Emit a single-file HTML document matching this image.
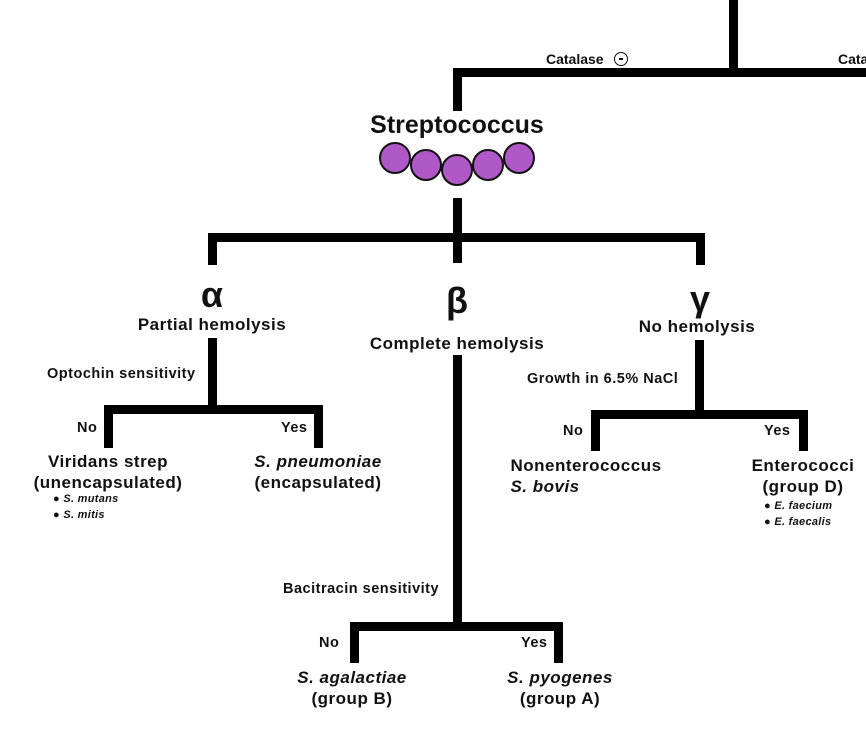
<!DOCTYPE html>
<html><head><style>
body{margin:0;background:#fff;}
.w{position:relative;width:866px;height:741px;overflow:hidden;font-family:"Liberation Sans",Arial,sans-serif;font-weight:bold;color:#111;}
.b{position:absolute;background:#000;}
.t{position:absolute;white-space:nowrap;}
.c{transform:translateX(-50%);text-align:center;}
.L{font-size:17px;letter-spacing:0.5px;line-height:21px;}
.S{font-size:14.5px;letter-spacing:0.5px;}
.B{font-size:11px;line-height:16px;letter-spacing:0.3px;}
i{font-style:italic;}
</style></head><body><div class="w">
<div class="b" style="left:729px;top:0;width:9px;height:76px"></div>
<div class="b" style="left:453px;top:68px;width:413px;height:9px"></div>
<div class="b" style="left:453px;top:68px;width:9px;height:43px"></div>
<div class="t" style="left:546px;top:51px;font-size:14px">Catalase</div>
<div style="position:absolute;left:614px;top:52px;width:14px;height:14px;border:1.5px solid #111;border-radius:50%;box-sizing:border-box"><div style="position:absolute;left:4px;top:5px;width:3.5px;height:1.5px;background:#111"></div></div>
<div class="t" style="left:838px;top:51px;font-size:14px">Catalase</div>
<div class="t c" style="left:457px;top:111px;font-size:25px">Streptococcus</div>
<svg style="position:absolute;left:370px;top:140px" width="180" height="50">
<g fill="#b058c8" stroke="#111" stroke-width="2">
<circle cx="25" cy="18" r="15"/><circle cx="149" cy="18" r="15"/>
<circle cx="56" cy="25" r="15"/><circle cx="118" cy="25" r="15"/>
<circle cx="87" cy="30" r="15"/></g></svg>
<div class="b" style="left:453px;top:198px;width:9px;height:42px"></div>
<div class="b" style="left:208px;top:233px;width:497px;height:9px"></div>
<div class="b" style="left:208px;top:233px;width:9px;height:32px"></div>
<div class="b" style="left:696px;top:233px;width:9px;height:32px"></div>
<div class="b" style="left:453px;top:233px;width:9px;height:30px"></div>
<div class="t c" style="left:212px;top:274px;font-size:36px">α</div>
<div class="t c L" style="left:212px;top:314px">Partial hemolysis</div>
<div class="t c" style="left:457px;top:280px;font-size:36px">β</div>
<div class="t c L" style="left:457px;top:333px">Complete hemolysis</div>
<div class="t c" style="left:700px;top:278px;font-size:36px">γ</div>
<div class="t c L" style="left:697px;top:316px">No hemolysis</div>
<div class="b" style="left:208px;top:338px;width:9px;height:75px"></div>
<div class="t S" style="left:47px;top:366px">Optochin sensitivity</div>
<div class="b" style="left:104px;top:405px;width:218px;height:9px"></div>
<div class="b" style="left:104px;top:405px;width:9px;height:43px"></div>
<div class="b" style="left:314px;top:405px;width:9px;height:43px"></div>
<div class="t S" style="left:77px;top:420px">No</div>
<div class="t S" style="left:281px;top:420px">Yes</div>
<div class="t c L" style="left:108px;top:451px">Viridans strep<br>(unencapsulated)</div>
<div class="t B" style="left:53px;top:491px">● <i>S. mutans</i><br>● <i>S. mitis</i></div>
<div class="t c L" style="left:318px;top:451px"><i>S. pneumoniae</i><br>(encapsulated)</div>
<div class="b" style="left:453px;top:355px;width:9px;height:275px"></div>
<div class="t S" style="left:283px;top:581px">Bacitracin sensitivity</div>
<div class="b" style="left:350px;top:622px;width:213px;height:9px"></div>
<div class="b" style="left:350px;top:622px;width:9px;height:41px"></div>
<div class="b" style="left:554px;top:622px;width:9px;height:41px"></div>
<div class="t S" style="left:319px;top:635px">No</div>
<div class="t S" style="left:521px;top:635px">Yes</div>
<div class="t c L" style="left:352px;top:667px"><i>S. agalactiae</i><br>(group B)</div>
<div class="t c L" style="left:560px;top:667px"><i>S. pyogenes</i><br>(group A)</div>
<div class="b" style="left:695px;top:340px;width:9px;height:78px"></div>
<div class="t S" style="left:527px;top:371px">Growth in 6.5% NaCl</div>
<div class="b" style="left:591px;top:410px;width:217px;height:9px"></div>
<div class="b" style="left:591px;top:410px;width:9px;height:41px"></div>
<div class="b" style="left:799px;top:410px;width:9px;height:41px"></div>
<div class="t S" style="left:563px;top:423px">No</div>
<div class="t S" style="left:764px;top:423px">Yes</div>
<div class="t c L" style="left:586px;top:455px">Nonenterococcus<br><i style="display:block;text-align:left">S. bovis</i></div>
<div class="t c L" style="left:803px;top:455px">Enterococci<br>(group D)</div>
<div class="t B" style="left:764px;top:498px">● <i>E. faecium</i><br>● <i>E. faecalis</i></div>
</div></body></html>
